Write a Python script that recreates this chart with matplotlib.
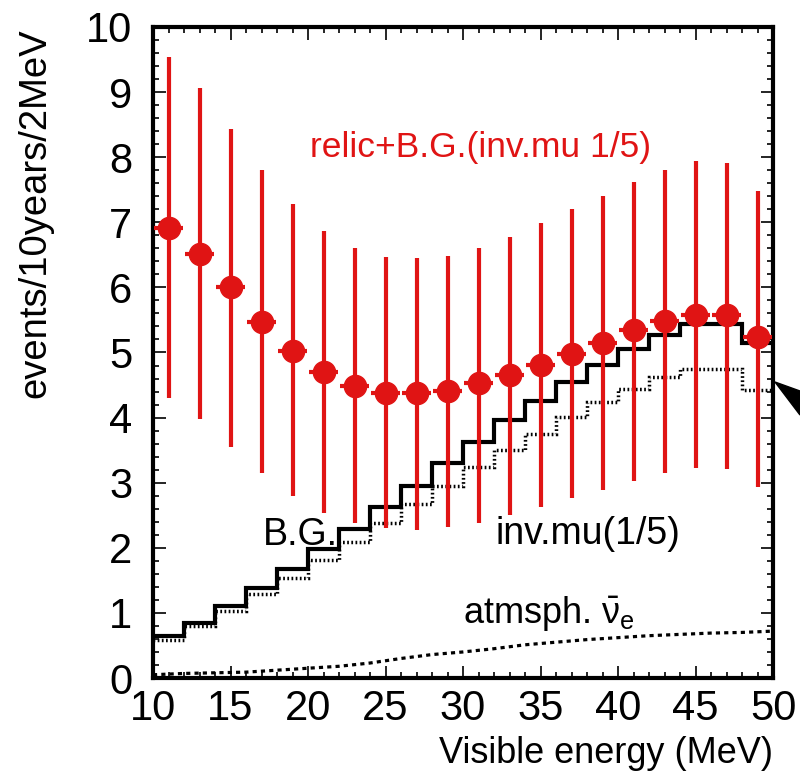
import matplotlib

matplotlib.use("Agg")
import matplotlib.pyplot as plt
import numpy as np
from matplotlib.patches import Polygon
from matplotlib.ticker import MultipleLocator

# data
bin_edges = list(range(10, 52, 2))
bin_centers = [11, 13, 15, 17, 19, 21, 23, 25, 27, 29, 31, 33, 35, 37, 39, 41, 43, 45, 47, 49]
relic_bg = [6.91, 6.51, 6.00, 5.47, 5.03, 4.70, 4.49, 4.38, 4.38, 4.41,
            4.53, 4.65, 4.81, 4.98, 5.14, 5.35, 5.49, 5.58, 5.58, 5.24]
relic_upper = [9.54, 9.06, 8.43, 7.80, 7.28, 6.87, 6.61, 6.47, 6.45, 6.49,
               6.61, 6.78, 6.99, 7.20, 7.40, 7.62, 7.80, 7.94, 7.91, 7.48]
relic_lower = [4.30, 3.98, 3.55, 3.15, 2.80, 2.53, 2.38, 2.30, 2.27, 2.32,
               2.38, 2.50, 2.62, 2.76, 2.89, 3.03, 3.15, 3.23, 3.21, 2.94]
bg_total = [0.65, 0.85, 1.10, 1.38, 1.67, 1.98, 2.29, 2.63, 2.95, 3.30,
            3.63, 3.96, 4.25, 4.55, 4.81, 5.06, 5.27, 5.44, 5.44, 5.15]
inv_mu = [0.58, 0.80, 1.03, 1.29, 1.54, 1.81, 2.09, 2.38, 2.67, 2.95,
          3.24, 3.50, 3.75, 4.01, 4.24, 4.44, 4.62, 4.75, 4.75, 4.42]
atm_x = [10, 12, 14, 16, 18, 20, 22, 24, 26, 28, 30, 32, 34, 36, 38, 40, 42, 44, 46, 48, 50]
atm_y = [0.05, 0.07, 0.08, 0.09, 0.12, 0.15, 0.18, 0.23, 0.30, 0.36, 0.40,
         0.45, 0.51, 0.55, 0.59, 0.62, 0.65, 0.67, 0.69, 0.70, 0.72]

plt.rcParams["font.family"] = ["Liberation Sans", "DejaVu Sans"]
plt.rcParams["mathtext.fontset"] = "custom"
plt.rcParams["mathtext.rm"] = "Liberation Sans"
plt.rcParams["mathtext.it"] = "Liberation Sans"

RED = "#e01414"
W, H = 800, 773

fig = plt.figure(figsize=(W / 100, H / 100), dpi=100)
ax = fig.add_axes([153 / W, 1 - 678 / H, 620 / W, 651 / H])

ax.stairs(bg_total, bin_edges, baseline=None, color="black", lw=3)
ax.stairs(inv_mu, bin_edges, baseline=None, color="black", lw=2.5,
          linestyle=(0, (0.5, 0.7)))
ax.plot(atm_x, atm_y, color="black", lw=2.3, linestyle=(0, (1.3, 1.3)))

yerr = [np.array(relic_bg) - np.array(relic_lower), np.array(relic_upper) - np.array(relic_bg)]
ax.errorbar(bin_centers, relic_bg, yerr=yerr, xerr=0.95, fmt="o", color=RED,
            ms=16, elinewidth=3, capsize=0, zorder=5)

ax.set_xlim(10, 50)
ax.set_ylim(0, 10)
ax.xaxis.set_major_locator(MultipleLocator(5))
ax.xaxis.set_minor_locator(MultipleLocator(1))
ax.yaxis.set_major_locator(MultipleLocator(1))
ax.yaxis.set_minor_locator(MultipleLocator(0.2))
ax.tick_params(which="both", direction="in", top=True, right=True, width=1.2,
               labelsize=30)
ax.tick_params(which="major", length=9)
ax.tick_params(which="minor", length=4.5)
ax.tick_params(axis="x", which="major", pad=8)
ax.tick_params(axis="y", which="major", pad=15)
for sp in ax.spines.values():
    sp.set_linewidth(3)

labels = [
    (310, 157, "relic+B.G.(inv.mu 1/5)", RED, 25.5),
    (263, 545, "B.G.", "black", 27),
    (495, 544, "inv.mu(1/5)", "black", 27),
    (463, 623, r"atmsph. $\bar{\nu}_{\rm e}$", "black", 26),
]
# pixel positions are measured from the top of the image
for x, y, s, c, size in labels:
    fig.text(x / W, 1 - y / H, s, color=c, fontsize=size)

fig.text(35 / W, 1 - 28 / H, "events/10years/2MeV", rotation=90, ha="center", va="top",
         fontsize=27.5)
fig.text(773 / W, 1 - 763 / H, "Visible energy (MeV)", ha="right", va="baseline",
         fontsize=26)

arrow = [(775, 382), (800, 391), (800, 415)]
fig.patches.append(Polygon([(x / W, 1 - y / H) for x, y in arrow], closed=True,
                           transform=fig.transFigure, color="black"))

fig.savefig("out.png", dpi=100)
